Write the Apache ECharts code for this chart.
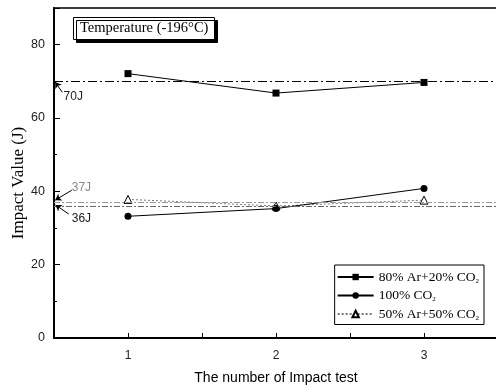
<!DOCTYPE html>
<html>
<head>
<meta charset="utf-8">
<script src="https://cdn.jsdelivr.net/npm/echarts@6/dist/echarts.min.js"></script>
<style>
html, body { margin: 0; padding: 0; background: #fff; }
#impactChart { width: 496px; height: 388px; }
</style>
</head>
<body>
<div id="impactChart"></div>
<script>
// test number (x) and impact values (J)
const testNo = [1, 2, 3]
const ar80co2_20 = [72.1, 66.8, 69.7]
const co2_100 = [33.2, 35.3, 40.8]
const ar50co2_50 = [37.8, 36.0, 37.6]
const refLevels = [70, 37, 36]
const xTicks = [0.5, 1, 1.5, 2, 2.5, 3, 3.5]
const yTicks = [0, 20, 40, 60, 80]

const serif = '"Liberation Serif", "DejaVu Serif", serif'
const sans = '"Liberation Sans", Arial, sans-serif'

function pairs(ys) {
  return ys.map((y, i) => [testNo[i], y])
}

let myChart = echarts.init(document.getElementById('impactChart'))
myChart.setOption({
  animation: false,
  title: {
    text: 'Temperature (-196°C)',
    left: 73,
    top: 17,
    padding: [4, 6, 4, 7],
    borderColor: '#000',
    borderWidth: 1,
    backgroundColor: '#fff',
    shadowColor: '#000',
    shadowBlur: 0,
    shadowOffsetX: 3,
    shadowOffsetY: 3,
    textStyle: { fontFamily: serif, fontSize: 14.5, fontWeight: 'normal', color: '#000' }
  },
  legend: {
    orient: 'vertical',
    right: 12,
    top: 265,
    itemWidth: 36,
    itemHeight: 8,
    itemGap: 4,
    padding: [5, 5, 3, 2],
    borderColor: '#000',
    borderWidth: 1,
    backgroundColor: '#fff',
    data: ['80% Ar+20% CO2', '100% CO2', '50% Ar+50% CO2'],
    formatter: function (name) {
      return '{a|' + name.replace('CO2', 'CO') + '}{s|2}'
    },
    textStyle: {
      rich: {
        a: { fontFamily: serif, fontSize: 13.5, color: '#000', lineHeight: 15 },
        s: { fontFamily: serif, fontSize: 7, color: '#000', padding: [8, 0, 0, 0] }
      }
    }
  },
  grid: {
    left: 54, right: -2, top: 8, bottom: 50,
    outerBoundsMode: 'none',
    show: true, borderColor: '#000', borderWidth: 1.5
  },
  xAxis: {
    type: 'value',
    min: xTicks[0],
    max: xTicks[xTicks.length - 1],
    interval: 0.5,
    name: 'The number of Impact test',
    nameLocation: 'middle',
    nameGap: 33,
    nameMoveOverlap: false,
    nameTextStyle: { fontFamily: sans, fontSize: 14, color: '#000' },
    splitLine: { show: false },
    axisLine: { lineStyle: { color: '#000', width: 2 } },
    axisTick: { inside: true, length: 5, lineStyle: { color: '#000' } },
    axisLabel: {
      margin: 12,
      fontFamily: sans,
      fontSize: 12,
      color: '#222',
      formatter: v => (Number.isInteger(v) && testNo.includes(v)) ? String(v) : ''
    }
  },
  yAxis: {
    type: 'value',
    min: yTicks[0],
    max: 90,
    interval: 20,
    name: 'Impact Value (J)',
    nameLocation: 'middle',
    nameGap: 27,
    nameMoveOverlap: false,
    nameTextStyle: { fontFamily: serif, fontSize: 17, color: '#000', padding: [0, 20, 0, 0] },
    splitLine: { show: false },
    axisLine: { lineStyle: { color: '#000', width: 2 } },
    axisTick: { inside: true, length: 6, lineStyle: { color: '#000' } },
    minorTick: { show: true, splitNumber: 2, length: 3, lineStyle: { color: '#000' } },
    axisLabel: {
      margin: 9,
      fontFamily: sans,
      fontSize: 12.5,
      color: '#222',
      showMaxLabel: false,
      formatter: v => yTicks.includes(v) ? String(v) : ''
    }
  },
  series: [
    {
      name: '80% Ar+20% CO2',
      type: 'line',
      data: pairs(ar80co2_20),
      symbol: 'rect',
      symbolSize: 7,
      itemStyle: { color: '#000' },
      lineStyle: { color: '#000', width: 1 },
      z: 5,
      markLine: {
        silent: true,
        symbol: 'none',
        label: { show: false },
        data: [
          { yAxis: refLevels[0], lineStyle: { color: '#000', type: [9, 3, 2, 3], width: 1 } },
          { yAxis: refLevels[1], lineStyle: { color: '#999', type: [6, 2, 2, 2], width: 1 } },
          { yAxis: refLevels[2], lineStyle: { color: '#666', type: [6, 2, 2, 2], width: 1 } },
          // annotation arrows
          [
            { coord: [0.556, 67.0], symbol: 'none', lineStyle: { color: '#000', type: 'solid', width: 1 } },
            { coord: [0.508, 69.8], symbol: 'arrow', symbolSize: 6 }
          ],
          [
            { coord: [0.62, 40.3], symbol: 'none', lineStyle: { color: '#000', type: 'solid', width: 1 } },
            { coord: [0.508, 37.6], symbol: 'arrow', symbolSize: 6 }
          ],
          [
            { coord: [0.6, 33.8], symbol: 'none', lineStyle: { color: '#000', type: 'solid', width: 1 } },
            { coord: [0.51, 36.3], symbol: 'arrow', symbolSize: 6 }
          ]
        ]
      },
      markPoint: {
        silent: true,
        symbol: 'circle',
        symbolSize: 0,
        label: { show: true, position: 'right', distance: 0, fontFamily: sans, fontSize: 12 },
        data: [
          { coord: [0.565, 65.7], value: '70J', label: { formatter: '70J', color: '#222' } },
          { coord: [0.62, 41.0], value: '37J', label: { formatter: '37J', color: '#888' } },
          { coord: [0.62, 32.5], value: '36J', label: { formatter: '36J', color: '#222' } }
        ]
      }
    },
    {
      name: '100% CO2',
      type: 'line',
      data: pairs(co2_100),
      symbol: 'circle',
      symbolSize: 7,
      itemStyle: { color: '#000' },
      lineStyle: { color: '#000', width: 1 },
      z: 4
    },
    {
      name: '50% Ar+50% CO2',
      type: 'line',
      data: pairs(ar50co2_50),
      symbol: 'triangle',
      symbolSize: 8,
      itemStyle: { color: '#fff', borderColor: '#000', borderWidth: 1 },
      lineStyle: { color: '#777', width: 1, type: [2, 2] },
      z: 3
    }
  ]
})
</script>
</body>
</html>
